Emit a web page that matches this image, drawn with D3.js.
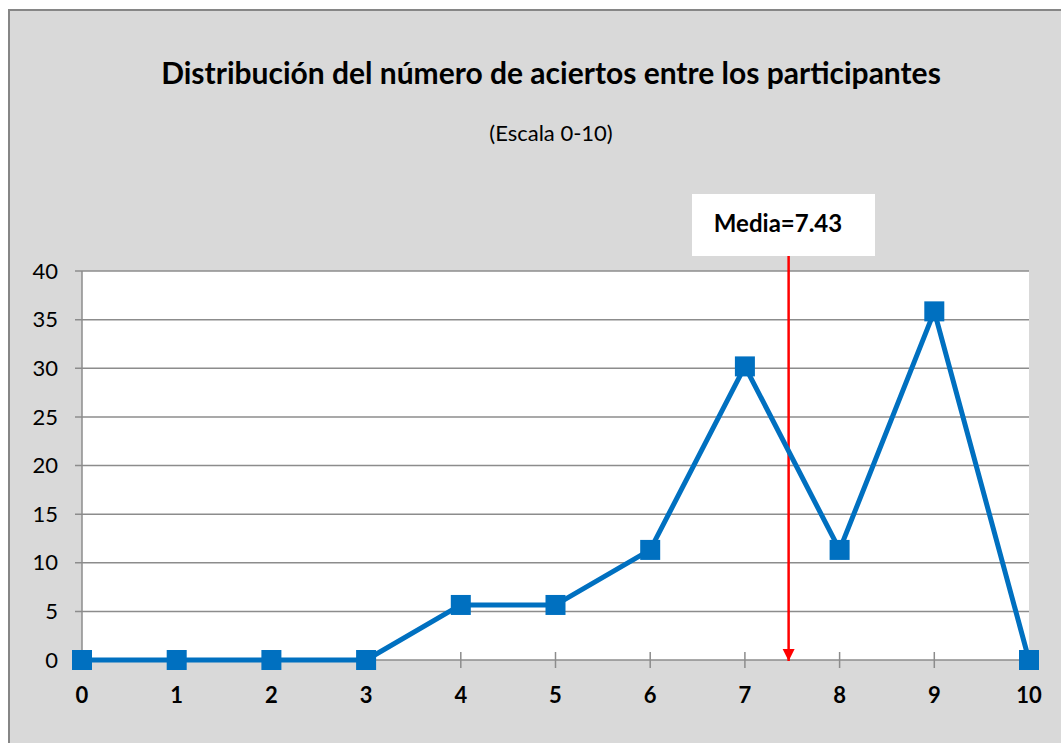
<!DOCTYPE html>
<html>
<head>
<meta charset="utf-8">
<script src="https://cdn.jsdelivr.net/npm/d3@7"></script>
<style>
  body { margin: 0; background: #fff; }
  text { font-family: Lato, "Open Sans", sans-serif; }
</style>
</head>
<body>
<div id="chart"></div>
<script>
// Data
const scores = [0, 1, 2, 3, 4, 5, 6, 7, 8, 9, 10];
const percents = [0, 0, 0, 0, 5.66, 5.66, 11.32, 30.19, 11.32, 35.85, 0];
const yTicks = [0, 5, 10, 15, 20, 25, 30, 35, 40];
const meanValue = 7.43;

const width = 1061, height = 743;
const plot = { left: 82, right: 1029, top: 271, bottom: 660 };

const svg = d3.select("#chart").append("svg")
  .attr("width", width)
  .attr("height", height);

// chart background with border
svg.append("rect")
  .attr("x", 9).attr("y", 10)
  .attr("width", width + 10).attr("height", height + 10)
  .attr("fill", "#d9d9d9")
  .attr("stroke", "#868686")
  .attr("stroke-width", 2);

const x = d3.scaleLinear().domain([0, 10]).range([plot.left, plot.right]);
const y = d3.scaleLinear().domain([0, 40]).range([plot.bottom, plot.top]);

// plot area
svg.append("rect")
  .attr("x", plot.left).attr("y", plot.top)
  .attr("width", plot.right - plot.left).attr("height", plot.bottom - plot.top)
  .attr("fill", "#fff");

// gridlines + y ticks
svg.append("g").selectAll("line")
  .data(yTicks)
  .enter().append("line")
  .attr("x1", plot.left - 7).attr("x2", plot.right)
  .attr("y1", d => y(d)).attr("y2", d => y(d))
  .attr("stroke", "#8c8c8c")
  .attr("stroke-width", 1.5);

// y axis line
svg.append("line")
  .attr("x1", plot.left).attr("x2", plot.left)
  .attr("y1", plot.top).attr("y2", plot.bottom)
  .attr("stroke", "#8c8c8c").attr("stroke-width", 1.5);

// y labels
svg.append("g").selectAll("text")
  .data(yTicks)
  .enter().append("text")
  .attr("x", 58)
  .attr("y", d => y(d))
  .attr("dy", "0.35em")
  .attr("text-anchor", "end")
  .style("font-size", "22px")
  .attr("fill", "#000")
  .text(d => d);

// x ticks
svg.append("g").selectAll("line")
  .data(scores)
  .enter().append("line")
  .attr("x1", d => x(d)).attr("x2", d => x(d))
  .attr("y1", plot.bottom - 8).attr("y2", plot.bottom + 8)
  .attr("stroke", "#8c8c8c").attr("stroke-width", 1.5);

// x labels
svg.append("g").selectAll("text")
  .data(scores)
  .enter().append("text")
  .attr("x", d => x(d))
  .attr("y", 703)
  .attr("text-anchor", "middle")
  .style("font-size", "22px")
  .style("font-weight", "bold")
  .text(d => d);

// mean arrow
svg.append("defs").append("marker")
  .attr("id", "arrow")
  .attr("viewBox", "0 0 10 10")
  .attr("refX", 10).attr("refY", 5)
  .attr("markerWidth", 5).attr("markerHeight", 6)
  .attr("orient", "auto")
  .append("path")
  .attr("d", "M0,0 L10,5 L0,10 Z")
  .attr("fill", "#ff0000");

svg.append("line")
  .attr("x1", x(meanValue) + 3).attr("x2", x(meanValue) + 3)
  .attr("y1", 255).attr("y2", plot.bottom + 1)
  .attr("stroke", "#ff0000")
  .attr("stroke-width", 2.5)
  .attr("marker-end", "url(#arrow)");

// line series
const pts = scores.map((s, i) => [s, percents[i]]);
svg.append("path")
  .datum(pts)
  .attr("fill", "none")
  .attr("stroke", "#0070c0")
  .attr("stroke-width", 5)
  .attr("stroke-linejoin", "round")
  .attr("d", d3.line().x(d => x(d[0])).y(d => y(d[1])));

svg.append("g").selectAll("rect")
  .data(pts)
  .enter().append("rect")
  .attr("x", d => x(d[0]) - 10)
  .attr("y", d => y(d[1]) - 10)
  .attr("width", 20).attr("height", 20)
  .attr("fill", "#0070c0");

// mean label box
svg.append("rect")
  .attr("x", 692).attr("y", 194)
  .attr("width", 183).attr("height", 62)
  .attr("fill", "#fff");

svg.append("text")
  .attr("x", 778).attr("y", 224)
  .attr("dy", "0.35em")
  .attr("text-anchor", "middle")
  .style("font-size", "24px")
  .style("font-weight", "bold")
  .text("Media=" + meanValue.toFixed(2));

// titles
svg.append("text")
  .attr("x", 551).attr("y", 84)
  .attr("text-anchor", "middle")
  .style("font-size", "30px")
  .style("font-weight", "bold")
  .text("Distribución del número de aciertos entre los participantes");

svg.append("text")
  .attr("x", 551).attr("y", 141)
  .attr("text-anchor", "middle")
  .style("font-size", "22px")
  .text("(Escala 0-10)");
</script>
</body>
</html>
